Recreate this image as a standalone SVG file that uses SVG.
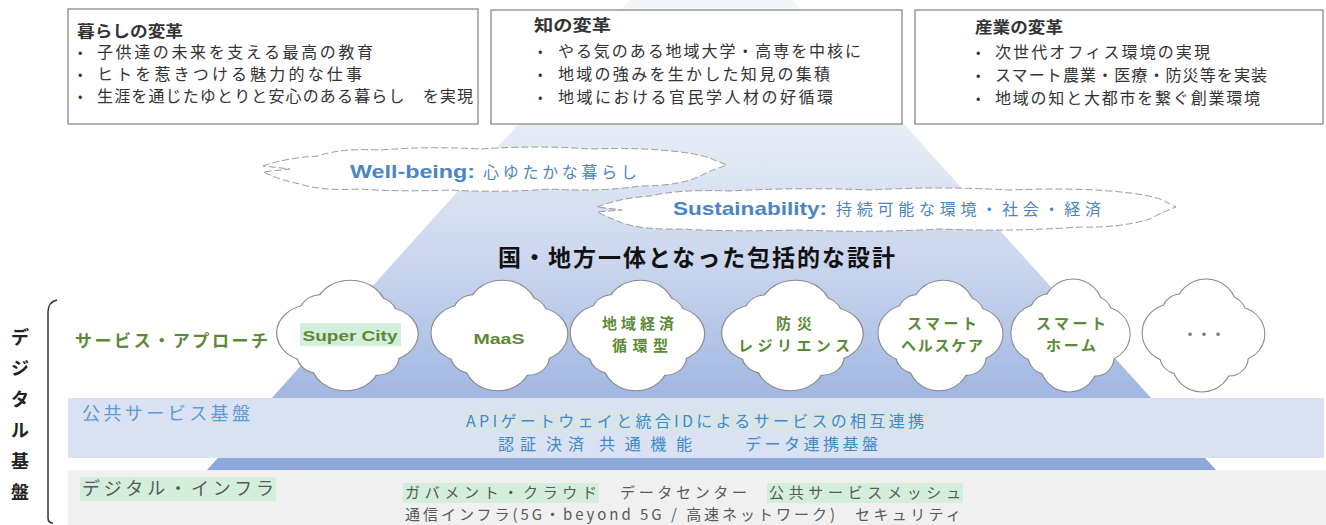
<svg xmlns="http://www.w3.org/2000/svg" width="1326" height="525" viewBox="0 0 1326 525">
<style>
.jp{font-family:"Noto Sans CJK JP","Liberation Sans",sans-serif}
.box{fill:#fff;stroke:#7f7f7f;stroke-width:1.2}
.bt{font-size:16px;fill:#333;font-weight:700}
.bl{font-size:16px;fill:#333}
.bu{font-size:13px;fill:#333}
.cl{fill:#fff;stroke:#8a8a8a;stroke-width:2}
.cf{fill:#fff}
.ct{font-size:15px;fill:#5a8a35;font-weight:700;text-anchor:middle}
.ban{fill:#fff;stroke:#9a9a9a;stroke-width:1;stroke-dasharray:7 3}
.bw{fill:#4a85c4}
.hl{fill:#d3eedb}
.pub{font-size:16px;fill:#3f8ac8}
.inf{font-size:15px;fill:#595959}
</style>
<defs>
<linearGradient id="tri" x1="0" y1="0" x2="0" y2="470" gradientUnits="userSpaceOnUse">
<stop offset="0" stop-color="#f3f6fb"/>
<stop offset="0.32" stop-color="#e3e9f5"/>
<stop offset="0.55" stop-color="#cbd7ee"/>
<stop offset="0.72" stop-color="#b3c5e7"/>
<stop offset="0.85" stop-color="#a0b6e1"/>
<stop offset="1" stop-color="#8aa6da"/>
</linearGradient>
<g id="cloud">
<g class="cl">
<circle cx="2" cy="-28" r="29"/><circle cx="-30" cy="-3" r="29"/><circle cx="31" cy="-2" r="27"/><circle cx="-2" cy="28" r="28"/><circle cx="0" cy="0" r="32"/><circle cx="-22" cy="-24" r="18"/><circle cx="24" cy="22" r="18"/><circle cx="-24" cy="20" r="18"/><circle cx="22" cy="-22" r="18"/>
</g>
<g class="cf">
<circle cx="2" cy="-28" r="29"/><circle cx="-30" cy="-3" r="29"/><circle cx="31" cy="-2" r="27"/><circle cx="-2" cy="28" r="28"/><circle cx="0" cy="0" r="32"/><circle cx="-22" cy="-24" r="18"/><circle cx="24" cy="22" r="18"/><circle cx="-24" cy="20" r="18"/><circle cx="22" cy="-22" r="18"/>
</g>
</g>
</defs>

<rect width="1326" height="525" fill="#fff"/>

<g id="pyramid">
<polygon points="711,-90 1216,470 207,470" fill="url(#tri)"/>
</g>

<g id="bands">
<rect x="68" y="398" width="1256" height="60" fill="#d9e1f2"/>
<rect x="68" y="470" width="1258" height="55" fill="#f0f0f0"/>
</g>

<g id="box-kurashi" class="jp">
<rect class="box" x="68" y="9" width="410" height="115"/>
<text class="bt" x="77" y="37" textLength="106" lengthAdjust="spacingAndGlyphs">暮らしの変革</text>
<text class="bu" x="78" y="57">•</text>
<text class="bl" x="97" y="58" textLength="276" lengthAdjust="spacing">子供達の未来を支える最高の教育</text>
<text class="bu" x="78" y="79">•</text>
<text class="bl" x="97" y="80" textLength="265" lengthAdjust="spacing">ヒトを惹きつける魅力的な仕事</text>
<text class="bu" x="78" y="101">•</text>
<text class="bl" x="97" y="102" textLength="376" lengthAdjust="spacing">生涯を通じたゆとりと安心のある暮らし　を実現</text>
</g>

<g id="box-chi" class="jp">
<rect class="box" x="491" y="10" width="411" height="114"/>
<text class="bt" x="534" y="31" textLength="77" lengthAdjust="spacingAndGlyphs">知の変革</text>
<text class="bu" x="538" y="56">•</text>
<text class="bl" x="558" y="57" textLength="303" lengthAdjust="spacing">やる気のある地域大学・高専を中核に</text>
<text class="bu" x="538" y="79">•</text>
<text class="bl" x="558" y="80" textLength="272" lengthAdjust="spacing">地域の強みを生かした知見の集積</text>
<text class="bu" x="538" y="102">•</text>
<text class="bl" x="558" y="103" textLength="275" lengthAdjust="spacing">地域における官民学人材の好循環</text>
</g>

<g id="box-sangyo" class="jp">
<rect class="box" x="915" y="10" width="408" height="114"/>
<text class="bt" x="975" y="33" textLength="88" lengthAdjust="spacingAndGlyphs">産業の変革</text>
<text class="bu" x="976" y="57">•</text>
<text class="bl" x="995" y="58" textLength="215" lengthAdjust="spacing">次世代オフィス環境の実現</text>
<text class="bu" x="976" y="80">•</text>
<text class="bl" x="995" y="81" textLength="272" lengthAdjust="spacing">スマート農業・医療・防災等を実装</text>
<text class="bu" x="976" y="103">•</text>
<text class="bl" x="995" y="104" textLength="265" lengthAdjust="spacing">地域の知と大都市を繋ぐ創業環境</text>
</g>

<g id="wellbeing" class="jp">
<path class="ban" d="M263,166 Q285,158 318,156 Q340,148 380,150 Q430,146 480,149 Q540,145 590,149 Q640,147 680,152 Q705,155 714,160 L727,165 Q712,170 700,176 Q680,186 640,186 Q600,192 550,189 Q500,193 450,190 Q400,192 360,189 Q320,191 300,184 Q280,180 263,172 L290,169 Z"/>
<text x="350" y="178"><tspan class="bw" font-family="Liberation Sans,sans-serif" font-weight="700" font-size="19px" textLength="125" lengthAdjust="spacingAndGlyphs">Well-being:</tspan><tspan class="bw" font-size="16px" x="483" textLength="154" lengthAdjust="spacing">心ゆたかな暮らし</tspan></text>
</g>

<g id="sustainability" class="jp">
<path class="ban" d="M597,207 Q620,198 650,196 Q680,189 730,191 Q800,187 870,190 Q940,186 1010,190 Q1080,187 1130,193 Q1160,197 1166,202 L1176,207 Q1160,213 1150,219 Q1120,228 1080,227 Q1010,232 940,229 Q870,233 800,230 Q730,232 680,229 Q640,230 620,222 Q605,216 597,212 L622,210 Z"/>
<text x="673" y="215"><tspan class="bw" font-family="Liberation Sans,sans-serif" font-weight="700" font-size="19px" textLength="154" lengthAdjust="spacingAndGlyphs">Sustainability:</tspan><tspan class="bw" font-size="16px" x="836" textLength="265" lengthAdjust="spacing">持続可能な環境・社会・経済</tspan></text>
</g>

<g id="title" class="jp">
<text x="498" y="266" font-size="23px" font-weight="700" fill="#111" textLength="397" lengthAdjust="spacing">国・地方一体となった包括的な設計</text>
</g>

<g id="service-label" class="jp">
<text x="75" y="347" font-size="17px" font-weight="700" fill="#5a8a35" textLength="193" lengthAdjust="spacing">サービス・アプローチ</text>
</g>

<g id="cloud-supercity" class="jp">
<use href="#cloud" transform="translate(348,336) scale(1.2,0.97)"/>
<rect class="hl" x="300" y="323" width="101" height="23"/>
<text class="ct" x="350" y="341" font-size="17px" font-family="Liberation Sans,sans-serif" textLength="95" lengthAdjust="spacingAndGlyphs">Super City</text>
</g>
<g id="cloud-maas" class="jp">
<use href="#cloud" transform="translate(500,336) scale(1.16,0.97)"/>
<text class="ct" x="499" y="344" font-size="17px" font-family="Liberation Sans,sans-serif" textLength="51" lengthAdjust="spacingAndGlyphs">MaaS</text>
</g>
<g id="cloud-chiiki" class="jp">
<use href="#cloud" transform="translate(638,336) scale(1.14,0.97)"/>
<text class="ct" x="638" y="329" textLength="72" lengthAdjust="spacing">地域経済</text>
<text class="ct" x="640" y="351" textLength="56" lengthAdjust="spacing">循環型</text>
</g>
<g id="cloud-bousai" class="jp">
<use href="#cloud" transform="translate(793,336) scale(1.2,0.97)"/>
<text class="ct" x="794" y="329" textLength="36" lengthAdjust="spacing">防災</text>
<text class="ct" x="794" y="351" textLength="112" lengthAdjust="spacing">レジリエンス</text>
</g>
<g id="cloud-health" class="jp">
<use href="#cloud" transform="translate(941,336) scale(1.06,0.97)"/>
<text class="ct" x="942" y="329" textLength="70" lengthAdjust="spacing">スマート</text>
<text class="ct" x="942" y="351" textLength="82" lengthAdjust="spacing">ヘルスケア</text>
</g>
<g id="cloud-home" class="jp">
<use href="#cloud" transform="translate(1071,336) scale(1.01,0.99)"/>
<text class="ct" x="1071" y="329" textLength="70" lengthAdjust="spacing">スマート</text>
<text class="ct" x="1071" y="351" textLength="50" lengthAdjust="spacing">ホーム</text>
</g>
<g id="cloud-etc" class="jp">
<use href="#cloud" transform="translate(1204,336) scale(1.04,0.99)"/>
<text x="1204" y="340" font-size="16px" fill="#777" text-anchor="middle" textLength="44" lengthAdjust="spacing">・・・</text>
</g>

<g id="public-layer" class="jp">
<text x="82" y="420" font-size="18px" fill="#5b9bd5" textLength="168" lengthAdjust="spacing">公共サービス基盤</text>
<rect class="hl" x="464" y="411" width="462" height="21" opacity="0.35"/>
<text class="pub" x="466" y="427" textLength="458" lengthAdjust="spacing">APIゲートウェイと統合IDによるサービスの相互連携</text>
<text class="pub" x="498" y="450" textLength="38" lengthAdjust="spacing">認証</text>
<text class="pub" x="546" y="450" textLength="38" lengthAdjust="spacing">決済</text>
<text class="pub" x="599" y="450" textLength="93" lengthAdjust="spacing">共通機能</text>
<text class="pub" x="745" y="450" textLength="133" lengthAdjust="spacing">データ連携基盤</text>
</g>

<g id="infra-layer" class="jp">
<rect class="hl" x="80" y="477" width="196" height="24"/>
<text x="82" y="495" font-size="18px" fill="#595959" textLength="192" lengthAdjust="spacing">デジタル・インフラ</text>
<rect class="hl" x="403" y="483" width="196" height="20"/>
<text class="inf" x="405" y="498" textLength="192" lengthAdjust="spacing">ガバメント・クラウド</text>
<text class="inf" x="620" y="498" textLength="127" lengthAdjust="spacing">データセンター</text>
<rect class="hl" x="767" y="483" width="196" height="20"/>
<text class="inf" x="769" y="498" textLength="192" lengthAdjust="spacing">公共サービスメッシュ</text>
<text class="inf" x="405" y="520" textLength="430" lengthAdjust="spacing">通信インフラ(5G・beyond 5G / 高速ネットワーク)</text>
<text class="inf" x="855" y="520" textLength="106" lengthAdjust="spacing">セキュリティ</text>
</g>

<g id="digital-label" class="jp">
<path d="M57,300 Q48,302 48,312 L48,518 Q48,523 53,523" fill="none" stroke="#333" stroke-width="1.5"/>
<g font-size="18px" font-weight="700" fill="#222" text-anchor="middle">
<text x="20" y="344">デ</text>
<text x="20" y="375">ジ</text>
<text x="20" y="406">タ</text>
<text x="20" y="437">ル</text>
<text x="20" y="468">基</text>
<text x="20" y="499">盤</text>
</g>
</g>
</svg>
